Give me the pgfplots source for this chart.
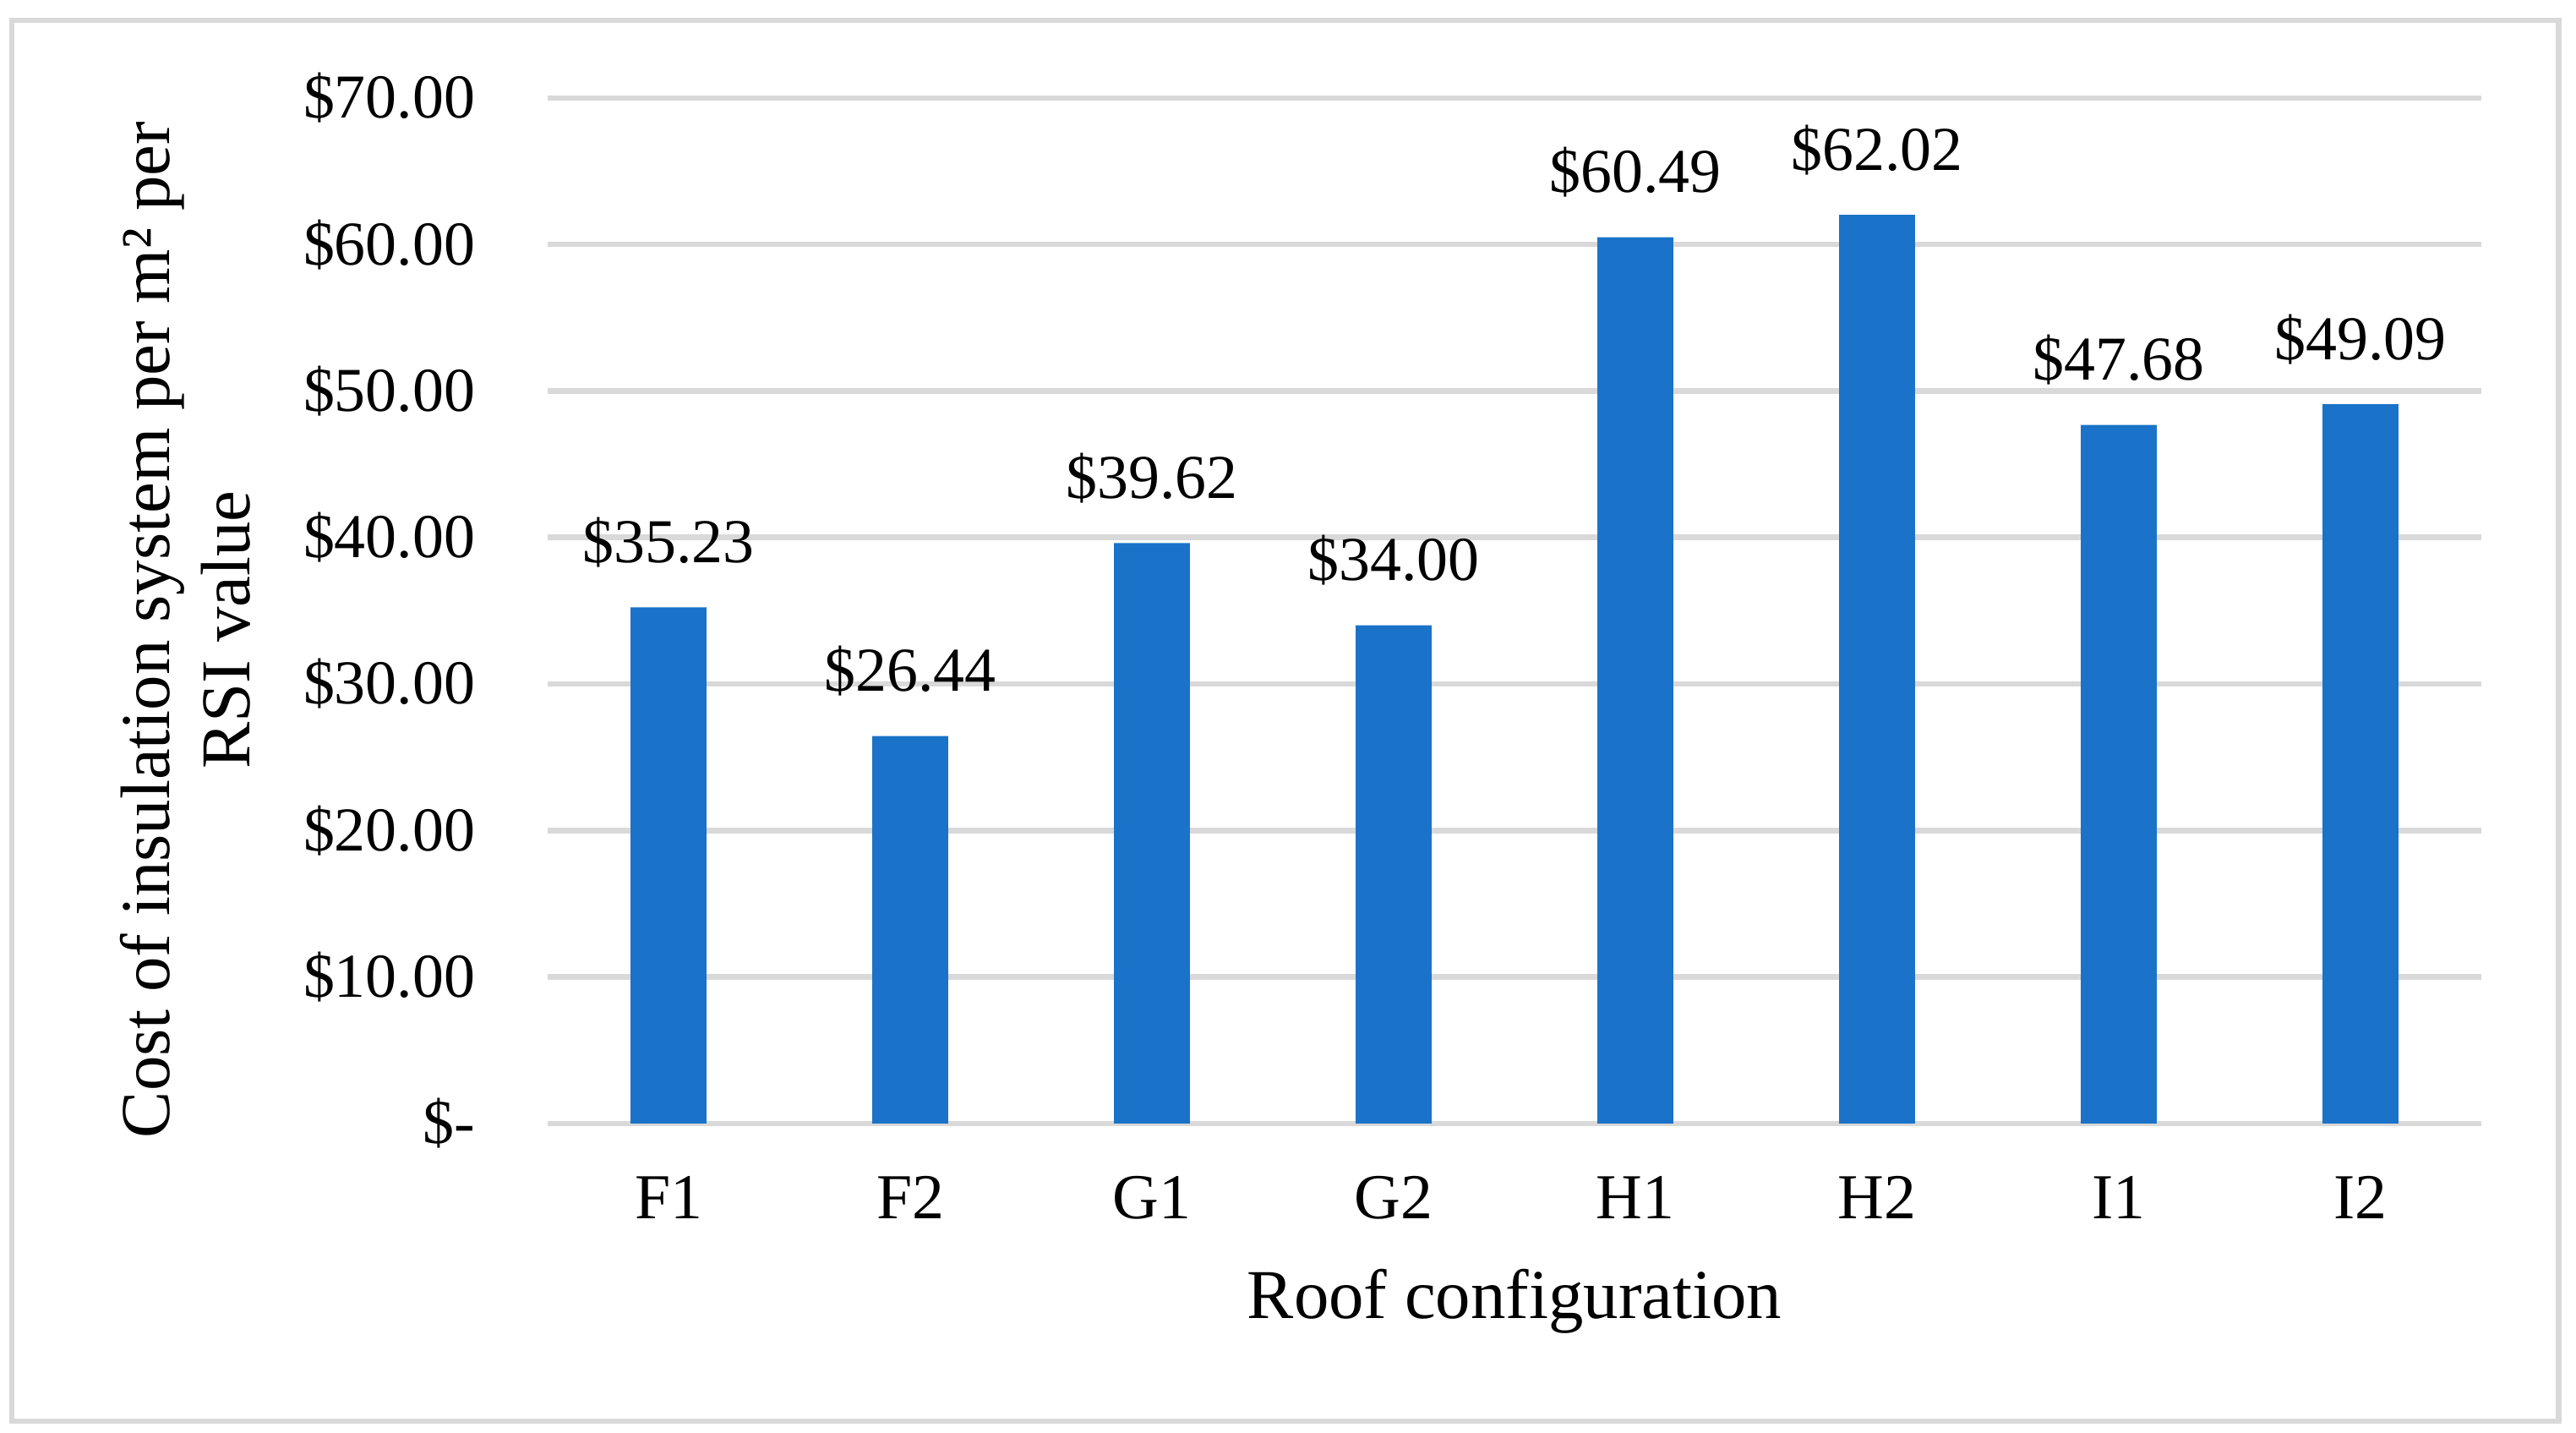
\documentclass[border=0pt]{standalone}
\usepackage{fontspec}
\setmainfont{Liberation Serif}
\usepackage{pgfplots}
\pgfplotsset{compat=1.18}
\definecolor{barblue}{RGB}{26,115,200}
\definecolor{gridgray}{RGB}{217,217,217}
\begin{document}
\begin{tikzpicture}
\useasboundingbox (-166.7pt,-94.1pt) rectangle (617.3pt,341.8pt);
\draw[gridgray, line width=1.6pt] (-163pt,-90.5pt) rectangle (612pt,335.6pt);
\begin{axis}[
  at={(0pt,0pt)}, anchor=south west,
  scale only axis, width=588.5pt, height=312pt,
  xmin=-0.5, xmax=7.5, ymin=0, ymax=70,
  axis line style={draw=none},
  tick style={draw=none},
  major tick length=0pt,
  ymajorgrids, grid style={gridgray, line width=1.7pt},
  ytick={0,10,20,30,40,50,60,70},
  yticklabels={\$-\hspace{9.8pt},\$10.00,\$20.00,\$30.00,\$40.00,\$50.00,\$60.00,\$70.00},
  xtick={0,1,2,3,4,5,6,7},
  xticklabels={F1,F2,G1,G2,H1,H2,I1,I2},
  yticklabel style={font=\fontsize{19}{23}\selectfont, anchor=east, inner sep=0pt, xshift=-21.9pt},
  xticklabel style={font=\fontsize{19.5}{23}\selectfont, anchor=base, inner sep=0pt, yshift=-29.1pt},
  xlabel={Roof configuration},
  xlabel style={at={(axis description cs:0.5,0)}, anchor=base, yshift=-59.4pt, inner sep=0pt, font=\fontsize{21.3}{24.4}\selectfont},
  ylabel={Cost of insulation system per m² per\\RSI value},
  ylabel style={at={(axis description cs:-0.1534,0.4814)}, anchor=south, align=center, inner sep=0pt, font=\fontsize{21.3}{24.4}\selectfont},
  ybar, bar width=23.1pt,
  nodes near coords, point meta=explicit symbolic,
  every node near coord/.append style={font=\fontsize{19}{23}\selectfont, anchor=base, inner sep=0pt, yshift=13.6pt, text=black},
  clip=false,
]
\addplot[fill=barblue, draw=none] coordinates {
  (0,35.23) [\$35.23]
  (1,26.44) [\$26.44]
  (2,39.62) [\$39.62]
  (3,34.00) [\$34.00]
  (4,60.49) [\$60.49]
  (5,62.02) [\$62.02]
  (6,47.68) [\$47.68]
  (7,49.09) [\$49.09]
};
\end{axis}
\end{tikzpicture}
\end{document}
